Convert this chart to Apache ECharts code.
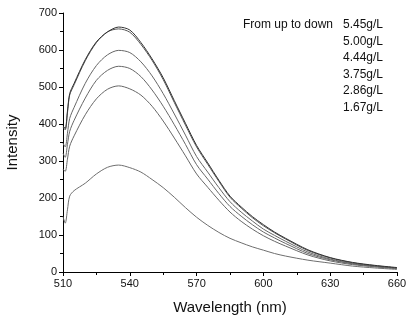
<!DOCTYPE html>
<html>
<head>
<meta charset="utf-8">
<script src="https://cdn.jsdelivr.net/npm/echarts@6/dist/echarts.min.js"></script>
<style>
  html, body { margin: 0; padding: 0; background: #fff; }
  #chart { width: 409px; height: 318px; }
</style>
</head>
<body>
<div id="chart"></div>
<script>
// wavelength (nm) sample points
const wavelengths = [510, 511, 512, 513, 515, 520, 525, 530, 535, 540, 545, 550, 555, 560, 565, 570, 575, 580, 585, 590, 595, 600, 605, 610, 620, 630, 640, 650, 660];

const c545 = [395, 388, 435, 482, 510, 574, 622, 649, 662, 654, 620, 576, 525, 463, 402, 342, 295, 248, 205, 176, 150, 128, 108, 91, 60, 39, 26, 18, 12];
const c500 = [392, 384, 430, 478, 506, 571, 620, 649, 657, 648, 615, 572, 520, 458, 397, 338, 291, 245, 202, 173, 147, 125, 106, 89, 58, 38, 25, 17, 11];
const c444 = [348, 338, 375, 415, 445, 510, 558, 587, 599, 593, 568, 530, 482, 427, 370, 312, 270, 228, 190, 162, 138, 116, 99, 83, 54, 35, 23, 16, 11];
const c375 = [321, 310, 345, 380, 410, 470, 518, 545, 556, 550, 528, 492, 448, 398, 345, 290, 251, 212, 177, 151, 128, 108, 92, 77, 50, 33, 22, 15, 10];
const c286 = [278, 272, 305, 340, 368, 425, 468, 494, 503, 495, 478, 448, 408, 362, 314, 265, 229, 194, 162, 137, 116, 98, 83, 70, 46, 30, 20, 14, 9];
const c167 = [150, 132, 168, 205, 220, 240, 265, 283, 289, 282, 270, 250, 228, 202, 174, 148, 126, 107, 91, 79, 68, 59, 50, 43, 32, 24, 16, 11, 7];

const seriesNames = ['5.45g/L', '5.00g/L', '4.44g/L', '3.75g/L', '2.86g/L', '1.67g/L'];
const seriesValues = [c545, c500, c444, c375, c286, c167];
const lineColors = ['#333333', '#555555', '#666666', '#666666', '#666666', '#6e6e6e'];

const chart = echarts.init(document.getElementById('chart'));

const font = 'Liberation Sans, Arial, sans-serif';

const series = seriesValues.map((vals, k) => ({
  name: seriesNames[k],
  type: 'line',
  data: wavelengths.map((w, i) => [w, vals[i]]),
  showSymbol: false,
  smooth: 0.3,
  lineStyle: { color: lineColors[k], width: 1 },
  z: 10 - k
}));

// legend text block, top right
const labelLines = [];
seriesNames.forEach((n, i) => {
  labelLines.push({
    type: 'text',
    left: 343,
    top: 19 + i * 16.5,
    style: { text: n, font: '12px ' + font, fill: '#111' }
  });
});
labelLines.push({
  type: 'text',
  left: 243,
  top: 19,
  style: { text: 'From up to down', font: '12px ' + font, fill: '#111' }
});

const option = {
  animation: false,
  grid: { left: 63, right: 12, top: 13, bottom: 46, outerBoundsMode: 'none' },
  xAxis: {
    type: 'value',
    min: 510, max: 660, interval: 30,
    name: 'Wavelength (nm)',
    nameLocation: 'middle',
    nameGap: 28,
    nameTextStyle: { fontFamily: font, fontSize: 15, color: '#111' },
    axisLine: { lineStyle: { color: '#000', width: 1 } },
    axisTick: { inside: false, length: 4, lineStyle: { color: '#000' } },
    minorTick: { show: true, splitNumber: 2, length: 3, lineStyle: { color: '#000' } },
    axisLabel: { fontFamily: font, fontSize: 11, color: '#111', margin: 6 },
    splitLine: { show: false }
  },
  yAxis: {
    type: 'value',
    min: 0, max: 700, interval: 100,
    name: 'Intensity',
    nameLocation: 'middle',
    nameGap: 43,
    nameTextStyle: { fontFamily: font, fontSize: 15, color: '#111' },
    axisLine: { show: true, lineStyle: { color: '#000', width: 1 } },
    axisTick: { show: true, inside: false, length: 4, lineStyle: { color: '#000' } },
    minorTick: { show: true, splitNumber: 2, length: 3, lineStyle: { color: '#000' } },
    axisLabel: { fontFamily: font, fontSize: 11, color: '#111', margin: 6 },
    splitLine: { show: false }
  },
  series: series,
  graphic: labelLines
};

chart.setOption(option);
</script>
</body>
</html>
